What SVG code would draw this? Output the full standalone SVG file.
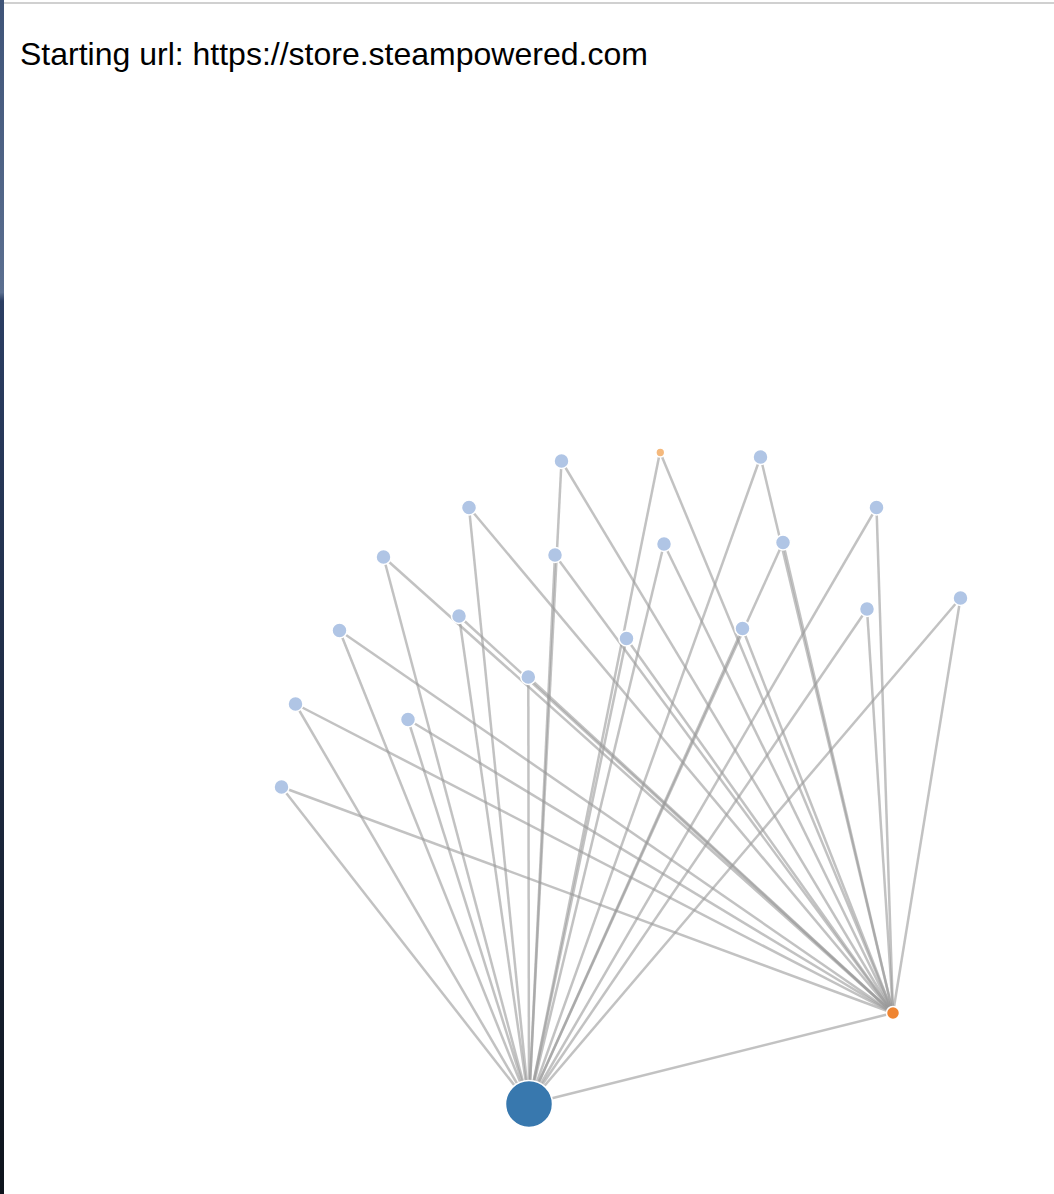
<svg xmlns="http://www.w3.org/2000/svg" width="1054" height="1194" viewBox="0 0 1054 1194">
<defs>
<linearGradient id="edge" x1="0" y1="0" x2="0" y2="1">
<stop offset="0" stop-color="#3f5478"/>
<stop offset="0.245" stop-color="#5b6f90"/>
<stop offset="0.252" stop-color="#2b3e63"/>
<stop offset="0.6" stop-color="#1f2c45"/>
<stop offset="1" stop-color="#0e141c"/>
</linearGradient>
</defs>
<style>
.link{stroke:#999;stroke-opacity:0.6;stroke-width:2.5;fill:none}
.node{stroke:#fff;stroke-width:1.5}
.blue{fill:#b0c5e5}
.title{font-family:"Liberation Sans",Arial,sans-serif;font-size:32px;fill:#000}
</style>
<rect x="0" y="0" width="1054" height="1194" fill="#fff"/>
<rect x="0" y="0" width="4" height="1194" fill="url(#edge)"/>
<rect x="4" y="2" width="1050" height="2" fill="#d0d0d0"/>
<text class="title" x="20" y="65">Starting url: https://store.steampowered.com</text>
<g id="links">
<line class="link" x1="529" y1="1104" x2="893" y2="1013"/>
<line class="link" x1="660" y1="452" x2="529" y2="1104"/>
<line class="link" x1="660" y1="452" x2="893" y2="1013"/>
<line class="link" x1="561.5" y1="461" x2="529" y2="1104"/>
<line class="link" x1="561.5" y1="461" x2="893" y2="1013"/>
<line class="link" x1="760.5" y1="457" x2="529" y2="1104"/>
<line class="link" x1="760.5" y1="457" x2="893" y2="1013"/>
<line class="link" x1="469" y1="507.5" x2="529" y2="1104"/>
<line class="link" x1="469" y1="507.5" x2="893" y2="1013"/>
<line class="link" x1="876.5" y1="507.5" x2="529" y2="1104"/>
<line class="link" x1="876.5" y1="507.5" x2="893" y2="1013"/>
<line class="link" x1="383.5" y1="557" x2="529" y2="1104"/>
<line class="link" x1="383.5" y1="557" x2="893" y2="1013"/>
<line class="link" x1="555" y1="555" x2="529" y2="1104"/>
<line class="link" x1="555" y1="555" x2="893" y2="1013"/>
<line class="link" x1="664" y1="544" x2="529" y2="1104"/>
<line class="link" x1="664" y1="544" x2="893" y2="1013"/>
<line class="link" x1="783" y1="542.5" x2="529" y2="1104"/>
<line class="link" x1="783" y1="542.5" x2="893" y2="1013"/>
<line class="link" x1="459" y1="616" x2="529" y2="1104"/>
<line class="link" x1="459" y1="616" x2="893" y2="1013"/>
<line class="link" x1="339.5" y1="630.5" x2="529" y2="1104"/>
<line class="link" x1="339.5" y1="630.5" x2="893" y2="1013"/>
<line class="link" x1="626.5" y1="638.5" x2="529" y2="1104"/>
<line class="link" x1="626.5" y1="638.5" x2="893" y2="1013"/>
<line class="link" x1="742.5" y1="628.5" x2="529" y2="1104"/>
<line class="link" x1="742.5" y1="628.5" x2="893" y2="1013"/>
<line class="link" x1="867" y1="609" x2="529" y2="1104"/>
<line class="link" x1="867" y1="609" x2="893" y2="1013"/>
<line class="link" x1="960.5" y1="598" x2="529" y2="1104"/>
<line class="link" x1="960.5" y1="598" x2="893" y2="1013"/>
<line class="link" x1="528.3" y1="677" x2="529" y2="1104"/>
<line class="link" x1="528.3" y1="677" x2="893" y2="1013"/>
<line class="link" x1="295.5" y1="704" x2="529" y2="1104"/>
<line class="link" x1="295.5" y1="704" x2="893" y2="1013"/>
<line class="link" x1="408" y1="719.5" x2="529" y2="1104"/>
<line class="link" x1="408" y1="719.5" x2="893" y2="1013"/>
<line class="link" x1="281.5" y1="787" x2="529" y2="1104"/>
<line class="link" x1="281.5" y1="787" x2="893" y2="1013"/>
</g>
<g id="n-main"><circle class="node" cx="529" cy="1104" r="23.5" fill="#3878ae"/></g>
<g id="n-orange"><circle class="node" cx="893" cy="1013" r="6.5" fill="#ef8532"/></g>
<g id="n-orange-small"><circle class="node" cx="660.3" cy="452.5" r="4.4" fill="#f5b97d"/></g>
<g id="b1"><circle class="node blue" cx="561.5" cy="461" r="7.5"/></g>
<g id="b2"><circle class="node blue" cx="760.5" cy="457" r="7.5"/></g>
<g id="b3"><circle class="node blue" cx="469" cy="507.5" r="7.5"/></g>
<g id="b4"><circle class="node blue" cx="876.5" cy="507.5" r="7.5"/></g>
<g id="b5"><circle class="node blue" cx="383.5" cy="557" r="7.5"/></g>
<g id="b6"><circle class="node blue" cx="555" cy="555" r="7.5"/></g>
<g id="b7"><circle class="node blue" cx="664" cy="544" r="7.5"/></g>
<g id="b8"><circle class="node blue" cx="783" cy="542.5" r="7.5"/></g>
<g id="b9"><circle class="node blue" cx="459" cy="616" r="7.5"/></g>
<g id="b10"><circle class="node blue" cx="339.5" cy="630.5" r="7.5"/></g>
<g id="b11"><circle class="node blue" cx="626.5" cy="638.5" r="7.5"/></g>
<g id="b12"><circle class="node blue" cx="742.5" cy="628.5" r="7.5"/></g>
<g id="b13"><circle class="node blue" cx="867" cy="609" r="7.5"/></g>
<g id="b14"><circle class="node blue" cx="960.5" cy="598" r="7.5"/></g>
<g id="b15"><circle class="node blue" cx="528.3" cy="677" r="7.5"/></g>
<g id="b16"><circle class="node blue" cx="295.5" cy="704" r="7.5"/></g>
<g id="b17"><circle class="node blue" cx="408" cy="719.5" r="7.5"/></g>
<g id="b18"><circle class="node blue" cx="281.5" cy="787" r="7.5"/></g>
</svg>
